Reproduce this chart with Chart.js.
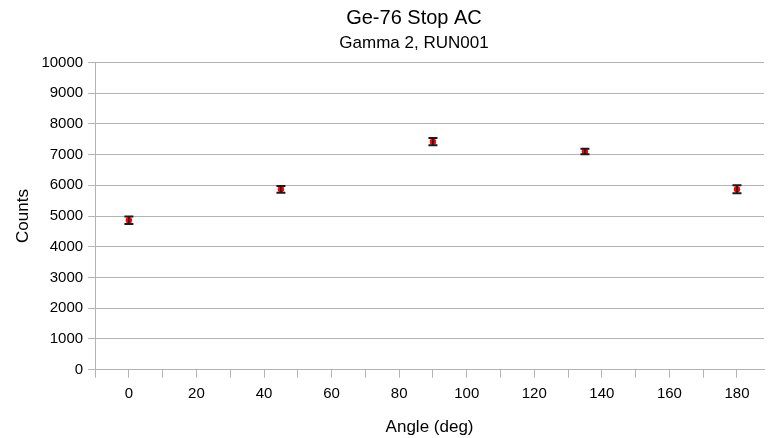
<!DOCTYPE html>
<html>
<head>
<meta charset="utf-8">
<script src="https://cdn.jsdelivr.net/npm/chart.js@4/dist/chart.umd.min.js"></script>
<style>
  html, body { margin: 0; padding: 0; background: #fff; }
  #wrap { width: 768px; height: 438px; }
</style>
</head>
<body>
<div id="wrap"><canvas id="chart" width="768" height="438"></canvas></div>
<script>
// measured angles and counts, with one-sigma errors
const angles = [0, 45, 90, 135, 180];
const counts = [4860, 5870, 7420, 7100, 5870];
const errors = [120, 110, 120, 90, 130];

const gridColor = '#b3b3b3';
const textColor = '#000000';
const fontName = '"Liberation Sans", Arial, sans-serif';

// error bars drawn with the chart's own scales
const errorBars = {
    id: 'errorBars',
    afterDatasetsDraw(chart) {
        const ctx = chart.ctx;
        const xs = chart.scales.x;
        const ys = chart.scales.y;
        ctx.save();
        ctx.strokeStyle = '#1a1a1a';
        angles.forEach((a, i) => {
            const px = xs.getPixelForValue(a);
            const top = ys.getPixelForValue(counts[i] + errors[i]);
            const bot = ys.getPixelForValue(counts[i] - errors[i]);
            ctx.lineWidth = 1.5;
            ctx.beginPath();
            ctx.moveTo(px, top);
            ctx.lineTo(px, bot);
            ctx.stroke();
            ctx.lineWidth = 2;
            ctx.beginPath();
            ctx.moveTo(px - 4.5, top);
            ctx.lineTo(px + 4.5, top);
            ctx.moveTo(px - 4.5, bot);
            ctx.lineTo(px + 4.5, bot);
            ctx.stroke();
        });
        ctx.restore();
    }
};

// the titles sit a little left of the canvas centre
const titleShift = {
    id: 'titleShift',
    afterLayout(chart) {
        chart.boxes.forEach(b => {
            if (b instanceof Chart.Title._element) {
                b.left = 60;
            }
        });
    }
};

new Chart(document.getElementById('chart'), {
    type: 'scatter',
    data: {
        datasets: [{
            data: angles.map((a, i) => ({ x: a, y: counts[i] })),
            backgroundColor: '#ff0000',
            borderWidth: 0,
            pointRadius: 3.2,
            pointStyle: 'circle'
        }]
    },
    options: {
        responsive: false,
        animation: false,
        layout: { padding: { left: 13, right: 0, top: 0, bottom: 0 } },
        plugins: {
            legend: { display: false },
            tooltip: { enabled: false },
            title: {
                display: true,
                text: 'Ge-76 Stop AC',
                color: textColor,
                font: { family: fontName, size: 20, weight: 'normal' },
                padding: { top: 6, bottom: 0 }
            },
            subtitle: {
                display: true,
                text: 'Gamma 2, RUN001',
                color: textColor,
                font: { family: fontName, size: 17, weight: 'normal' },
                padding: { top: 3, bottom: 9 }
            }
        },
        scales: {
            x: {
                type: 'linear',
                min: -10,
                max: 188,
                border: { color: gridColor, width: 1 },
                grid: {
                    drawOnChartArea: false,
                    drawTicks: true,
                    tickLength: 8,
                    color: gridColor
                },
                ticks: {
                    stepSize: 10,
                    includeBounds: false,
                    autoSkip: false,
                    maxRotation: 0,
                    padding: 7,
                    color: textColor,
                    font: { family: fontName, size: 15 },
                    callback: v => (v % 20 === 0 ? String(v) : '')
                },
                title: {
                    display: true,
                    text: 'Angle (deg)',
                    color: textColor,
                    font: { family: fontName, size: 17 },
                    padding: { top: 8, bottom: 0 }
                }
            },
            y: {
                min: 0,
                max: 10000,
                border: { color: gridColor, width: 1 },
                grid: {
                    color: gridColor,
                    tickLength: 7,
                    drawTicks: true
                },
                ticks: {
                    stepSize: 1000,
                    padding: 5,
                    color: textColor,
                    font: { family: fontName, size: 15 },
                    callback: v => String(v)
                },
                title: {
                    display: true,
                    text: 'Counts',
                    color: textColor,
                    font: { family: fontName, size: 17 },
                    padding: { top: 0, bottom: 3 }
                }
            }
        }
    },
    plugins: [errorBars, titleShift]
});
</script>
</body>
</html>
